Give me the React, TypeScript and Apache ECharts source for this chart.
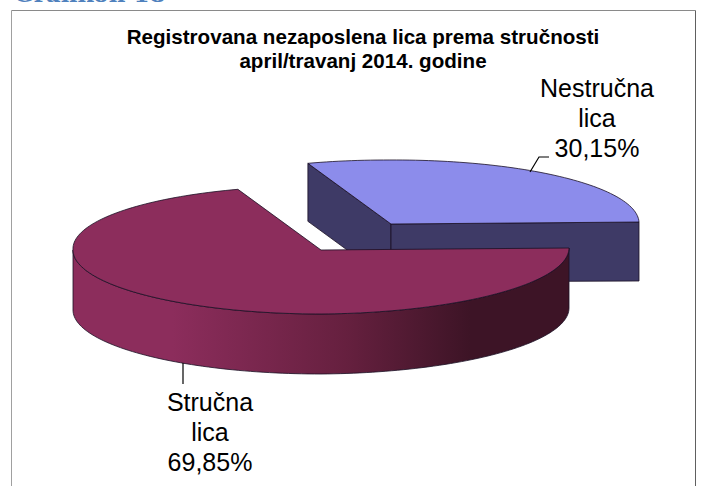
import React, { useEffect, useRef } from "react";
import * as echarts from "echarts";

const categories = ["Nestručna\nlica", "Stručna\nlica"];
const shareValues = [30.15, 69.85];
const topColors = ["#8c8ceb", "#8c2d5c"];
const wallColors = ["#3e3a66", "#8c2d5c"];
const titleLines = ["Registrovana nezaposlena lica prema stručnosti", "april/travanj 2014. godine"];
const headingText = "Grafikon 18";

const RX = 248, RY = 64, DEPTH = 60, SHEAR = 0.07, TILT = 2;
const centers: number[][] = [[391, 224], [321, 250]];
const labelAt: number[][] = [[597, 73], [210, 387]];
const leaders: number[][][] = [
  [[530, 172], [539, 157], [549, 157]],
  [[183, 363], [183, 384]],
];
const STROKE = "#1a1025";

function project(cx: number, cy: number, deg: number) {
  const a = (deg * Math.PI) / 180;
  const s = Math.sin(a), c = Math.cos(a);
  const x = cx + RX * c - (s > 0 ? SHEAR * RY * s : 0);
  const y = cy - RY * s - (c > 0 ? TILT * c : 0);
  return [x, y];
}

function slicePoints(cx: number, cy: number, a0: number, a1: number) {
  const pts: number[][] = [];
  const n = Math.max(2, Math.ceil(Math.abs(a1 - a0) / 1.5));
  for (let i = 0; i <= n; i++) pts.push(project(cx, cy, a0 + ((a1 - a0) * i) / n));
  return pts;
}

function renderItem(params: any, api: any) {
  const i = params.dataIndex;
  const value = api.value(0);
  const sweep = (value / 100) * 360;
  const [cx, cy] = centers[i];
  // Both slices meet at the 3 o'clock ray; the blue one runs counter-clockwise, the maroon clockwise.
  const a0 = i === 0 ? 0 : -sweep;
  const a1 = i === 0 ? sweep : 0;
  const arc = slicePoints(cx, cy, a0, a1);
  const children: any[] = [];
  const lw = { stroke: STROKE, lineWidth: 0.8 };

  if (i === 0) {
    const far = arc[arc.length - 1];
    const near = arc[0];
    const d = DEPTH - 2;
    children.push({
      type: "polygon",
      shape: { points: [far, [cx, cy], [cx, cy + d], [far[0], far[1] + d]] },
      style: { fill: wallColors[0], ...lw },
    });
    children.push({
      type: "polygon",
      shape: { points: [[cx, cy], near, [near[0], near[1] + d + 1], [cx, cy + d]] },
      style: { fill: wallColors[0], ...lw },
    });
  } else {
    const lower = slicePoints(cx, cy, -180, 0);
    const wall = [
      ...lower,
      ...lower.slice().reverse().map((p) => [p[0], p[1] + DEPTH]),
    ];
    children.push({
      type: "polygon",
      shape: { points: wall },
      style: {
        fill: new echarts.graphic.LinearGradient(0, 0, 1, 0, [
          { offset: 0, color: "#8c2d5c" },
          { offset: 0.2, color: "#8c2d5c" },
          { offset: 0.55, color: "#66203f" },
          { offset: 0.8, color: "#3d1426" },
          { offset: 1, color: "#3d1426" },
        ]),
        ...lw,
      },
    });
  }
  children.push({
    type: "polygon",
    shape: { points: [[cx, cy], ...arc] },
    style: { fill: topColors[i], ...lw },
  });
  children.push({
    type: "polyline",
    shape: { points: leaders[i] },
    style: { fill: "none", stroke: "#000", lineWidth: 1.2 },
  });
  children.push({
    type: "text",
    x: labelAt[i][0],
    y: labelAt[i][1],
    style: {
      text: `${categories[i]}\n${value.toFixed(2).replace(".", ",")}%`,
      fontFamily: "Liberation Sans",
      fontSize: 25,
      lineHeight: 30,
      fill: "#000",
      align: "center",
      verticalAlign: "top",
    },
  });
  return { type: "group", children };
}

export default function App() {
  const ref = useRef<HTMLDivElement>(null);
  useEffect(() => {
    const chart = echarts.init(ref.current!, null, { renderer: "svg" });
    chart.setOption({
      animation: false,
      backgroundColor: "#fff",
      title: {
        text: titleLines.join("\n"),
        left: 358,
        top: 20,
        textAlign: "center",
        textStyle: {
          fontFamily: "Liberation Sans",
          fontSize: 20.6,
          fontWeight: "bold",
          lineHeight: 23.5,
          color: "#000",
        },
      },
      graphic: [
        {
          type: "text",
          x: 14,
          y: -18,
          style: {
            text: headingText,
            fontFamily: "DejaVu Serif",
            fontWeight: "bold",
            fontSize: 23,
            fill: "#4f81bd",
          },
        },
        { type: "line", shape: { x1: 11.5, y1: 10.5, x2: 695.5, y2: 10.5 }, style: { stroke: "#8a8a8a", lineWidth: 1 } },
        { type: "line", shape: { x1: 11.5, y1: 10.5, x2: 11.5, y2: 486 }, style: { stroke: "#a0a0a0", lineWidth: 1 } },
        { type: "line", shape: { x1: 695.5, y1: 10.5, x2: 695.5, y2: 486 }, style: { stroke: "#606060", lineWidth: 1 } },
      ],
      series: [
        {
          type: "custom",
          coordinateSystem: "none",
          renderItem,
          data: shareValues.map((v) => [v]),
          silent: true,
        },
      ],
    });
    return () => chart.dispose();
  }, []);
  return <div ref={ref} style={{ position: "fixed", left: 0, top: 0, width: 704, height: 486 }} />;
}
